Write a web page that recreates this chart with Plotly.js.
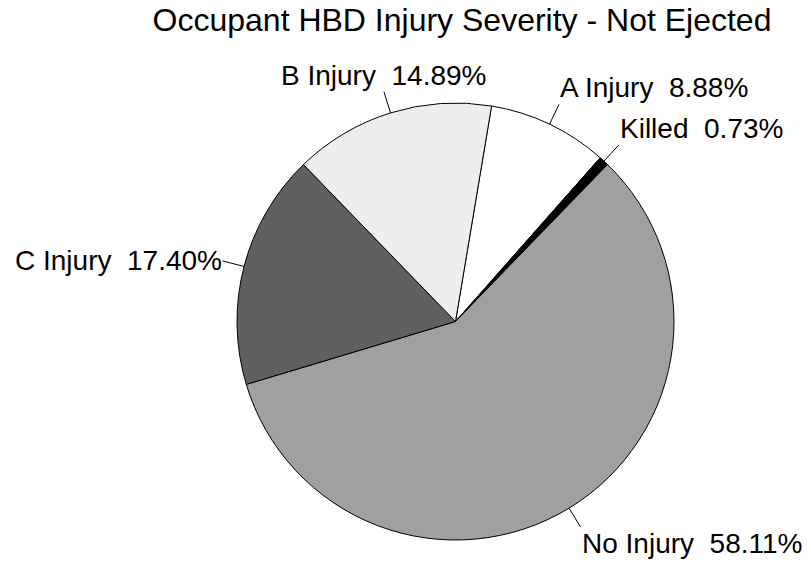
<!DOCTYPE html>
<html>
<head>
<meta charset="utf-8">
<script src="https://cdn.plot.ly/plotly-3.0.1.min.js"></script>
<style>html,body{margin:0;padding:0;background:#fff;}#chart{width:811px;height:563px;}</style>
</head>
<body>
<div id="chart"></div>
<script>
// Data
const labels = ['A Injury', 'Killed', 'No Injury', 'C Injury', 'B Injury'];
const values = [8.88, 0.73, 58.11, 17.40, 14.89];
const sliceColors = ['#ffffff', '#000000', '#a0a0a0', '#606060', '#eeeeee'];
const titleText = 'Occupant HBD Injury Severity - Not Ejected';

// Layout parameters
const W = 811, H = 563;
const margin = {l: 237, r: 137, t: 103, b: 23, pad: 0};
const plotSize = W - margin.l - margin.r; // 437
const rotationDeg = 9.5;
const leaderLen = 22; // px
const fontFam = '"Liberation Sans", Arial, Helvetica, sans-serif';

const total = values.reduce((a, b) => a + b, 0);
const annotations = [];
const shapes = [];
let start = rotationDeg;
values.forEach((v, i) => {
  const span = 360 * v / total;
  const mid = (start + span / 2) * Math.PI / 180;
  start += span;
  const s = Math.sin(mid), c = Math.cos(mid);
  const r0 = 0.5, r1 = 0.5 + leaderLen / plotSize;
  const x0 = 0.5 + r0 * s, y0 = 0.5 + r0 * c;
  const x1 = 0.5 + r1 * s, y1 = 0.5 + r1 * c;
  shapes.push({type: 'line', xref: 'paper', yref: 'paper', x0: x0, y0: y0, x1: x1, y1: y1,
    line: {color: '#000', width: 1}});
  const xanchor = Math.abs(s) < 0.4 ? 'center' : (s > 0 ? 'left' : 'right');
  const yanchor = c > 0.5 ? 'bottom' : (c < -0.5 ? 'top' : 'middle');
  annotations.push({xref: 'paper', yref: 'paper', x: x1, y: y1, xanchor: xanchor, yanchor: yanchor,
    text: labels[i] + '  ' + v.toFixed(2) + '%', showarrow: false,
    font: {family: fontFam, size: 28, color: '#000'}, borderpad: 0});
});

const trace = {
  type: 'pie',
  labels: labels,
  values: values,
  sort: false,
  direction: 'clockwise',
  rotation: rotationDeg,
  textinfo: 'none',
  hoverinfo: 'skip',
  marker: {colors: sliceColors, line: {color: '#000', width: 1}},
  domain: {x: [0, 1], y: [0, 1]},
  showlegend: false
};

const layout = {
  width: W, height: H,
  margin: margin,
  paper_bgcolor: '#fff', plot_bgcolor: '#fff',
  showlegend: false,
  title: {text: titleText, xref: 'container', yref: 'container', x: 462 / W, xanchor: 'center',
    y: 1 - 20 / H, yanchor: 'middle', font: {family: fontFam, size: 32, color: '#000'}},
  annotations: annotations,
  shapes: shapes
};

Plotly.newPlot('chart', [trace], layout, {displayModeBar: false, staticPlot: true});
</script>
</body>
</html>
